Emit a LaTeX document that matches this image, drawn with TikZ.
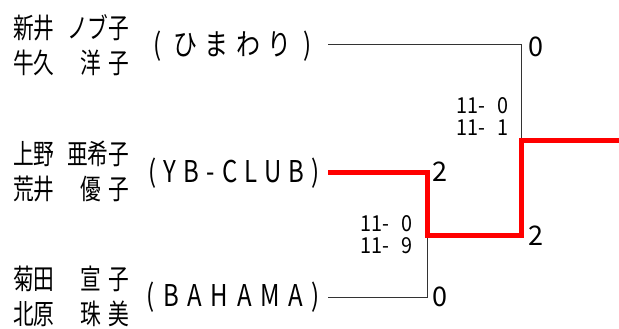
\documentclass[tikz,border=0pt]{standalone}
\usepackage{fontspec}
\setmainfont{Noto Sans CJK JP}
\newfontfamily\namefam[FakeStretch=0.74]{Noto Sans CJK JP}
\newfontfamily\teamfam[FakeStretch=0.8,LetterSpace=24]{Noto Sans CJK JP}
\newfontfamily\teamwide[FakeStretch=0.8,LetterSpace=29]{Noto Sans CJK JP}
\newfontfamily\gamefam[FakeStretch=0.9]{Noto Sans CJK JP}
\newcommand\pname[2]{\makebox[55pt][l]{#1}\makebox[61pt][r]{#2}}
\newcommand\twoch[2]{\makebox[49pt][s]{#1\hfill#2}}
\begin{document}
\begin{tikzpicture}[x=1pt,y=-1pt,
  player/.style={anchor=west, inner sep=0pt, font=\namefam\fontsize{28}{35}\selectfont, align=left},
  team/.style={anchor=east, inner sep=0pt, outer xsep=8pt, font=\teamfam\fontsize{30}{30}\selectfont},
  score/.style={anchor=west, inner sep=0pt, font=\fontsize{27}{27}\selectfont},
  game/.style={anchor=east, inner sep=0pt, font=\gamefam\fontsize{22}{22}\selectfont, align=right},
  line/.style={draw=black!80, line width=1pt},
  win/.style={draw=red, line width=5pt, line join=miter}]
\useasboundingbox (0,0) rectangle (619,329);
% players
\node[player] (p1) at (13,45) {\pname{新井}{ノブ子}\\\pname{牛久}{\twoch{洋}{子}}};
\node[player] (p2) at (13,171) {\pname{上野}{亜希子}\\\pname{荒井}{\twoch{優}{子}}};
\node[player] (p3) at (13,296) {\pname{菊田}{\twoch{宣}{子}}\\\pname{北原}{\twoch{珠}{美}}};
% teams
\node[team] (t1) at (328,46) {( ひまわり )\rule{8pt}{0pt}};
\node[team] (t2) at (328,173) {(YB-CLUB)};
\node[team, font=\teamwide\fontsize{30}{30}\selectfont] (t3) at (328,297) {(BAHAMA)};
% bracket points
\coordinate (a1) at (521,45);
\coordinate (m1) at (521,140);
\coordinate (a2) at (427,172);
\coordinate (m2) at (427,235);
\coordinate (b2) at (521,235);
\coordinate (a3) at (427,297);
\coordinate (w) at (619,140);
% black lines
\draw[line] (t1.east |- a1) -- (a1) -- (m1);
\draw[line] (t3.east |- a3) -- (a3) -- (m2);
% red winner path
\draw[win] (t2.east |- a2) -- (a2) -- (m2) -- (b2) -- (m1) -- (w);
% round scores
\node[score] (s1) at (528,47) {0};
\node[score] (s2) at (432,172) {2};
\node[score] (s3) at (432,297) {0};
\node[score] (s4) at (528,236) {2};
% game scores
\node[game] (g1) at (509,117) {11-\hspace{12pt}0\\11-\hspace{12pt}1};
\node[game] (g2) at (413,235) {11-\hspace{12pt}0\\11-\hspace{12pt}9};
\end{tikzpicture}
\end{document}
